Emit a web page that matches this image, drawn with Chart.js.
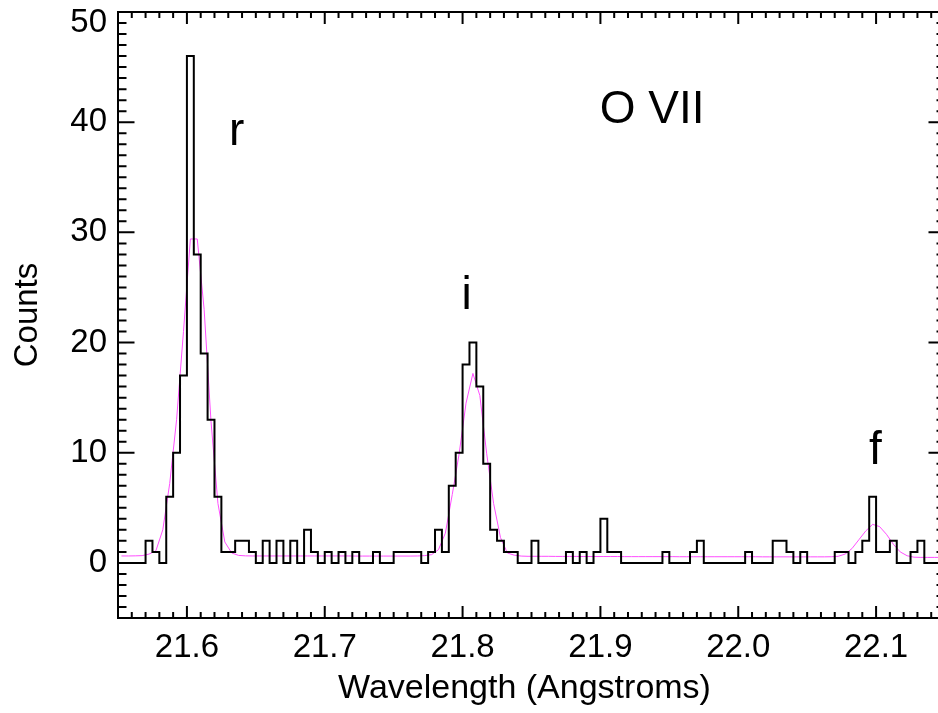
<!DOCTYPE html>
<html>
<head>
<meta charset="utf-8">
<title>O VII</title>
<script src="https://cdn.jsdelivr.net/npm/chart.js@4.4.1/dist/chart.umd.min.js"></script>
<style>
  html, body { margin: 0; padding: 0; background: #fff; overflow: hidden; }
  canvas { display: block; }
</style>
</head>
<body>
<canvas id="spectrum" width="948" height="713"></canvas>
<script>
// ===================================
// DATA
// ===================================

// bins: first center and width, in Angstroms
const binStart = 21.5525;
const binWidth = 0.005;

// observed counts per bin
const counts = [
  0, 0, 0, 0, 2, 1, 0, 6, 10, 17,
  46, 28, 19, 13, 6, 1, 1, 2, 2, 1,
  0, 2, 0, 2, 0, 2, 0, 3, 1, 0,
  1, 0, 1, 0, 1, 0, 0, 1, 0, 0,
  1, 1, 1, 1, 0, 1, 3, 1, 7, 10,
  18, 20, 16, 9, 3, 2, 1, 1, 0, 0,
  2, 0, 0, 0, 0, 1, 0, 1, 0, 1,
  4, 1, 1, 0, 0, 0, 0, 0, 0, 1,
  0, 0, 0, 1, 2, 0, 0, 0, 0, 0,
  0, 1, 0, 0, 0, 2, 2, 1, 0, 1,
  0, 0, 0, 0, 1, 1, 0, 1, 2, 6,
  1, 1, 2, 0, 0, 1, 2, 0, 0, 0
];

// fitted model at the same bin centers
const model = [
  0.63, 0.63, 0.64, 0.66, 0.80, 1.10, 3.00, 7.20, 13.0, 21.0,
  29.4, 29.4, 23.0, 12.8, 5.40, 1.90, 0.90, 0.68, 0.64, 0.63,
  0.63, 0.63, 0.63, 0.63, 0.63, 0.63, 0.63, 0.63, 0.63, 0.63,
  0.63, 0.63, 0.63, 0.63, 0.62, 0.62, 0.62, 0.62, 0.62, 0.62,
  0.62, 0.62, 0.62, 0.63, 0.66, 0.75, 1.20, 2.70, 6.20, 9.90,
  14.5, 17.2, 15.2, 9.90, 5.40, 2.30, 0.90, 0.70, 0.62, 0.60,
  0.60, 0.60, 0.60, 0.59, 0.59, 0.59, 0.59, 0.58, 0.58, 0.58,
  0.58, 0.58, 0.58, 0.57, 0.57, 0.57, 0.57, 0.57, 0.57, 0.57,
  0.57, 0.56, 0.56, 0.56, 0.56, 0.56, 0.56, 0.56, 0.56, 0.56,
  0.56, 0.56, 0.56, 0.55, 0.55, 0.55, 0.55, 0.55, 0.55, 0.55,
  0.55, 0.55, 0.55, 0.56, 0.60, 0.80, 1.30, 2.10, 2.90, 3.50,
  3.30, 2.60, 1.70, 1.00, 0.65, 0.52, 0.50, 0.50, 0.50, 0.50
];

const xTicks = [21.6, 21.7, 21.8, 21.9, 22.0, 22.1];
const yTicks = [0, 10, 20, 30, 40, 50];

const xRange = [21.55, 22.15];
const yRange = [-5, 50];

// line identifications (wavelength, counts at text baseline)
const lineNames = ["r", "i", "f"];
const lineNamePos = [[21.636, 37.9], [21.803, 23.0], [22.0995, 9.0]];
const ionName = "O VII";
const ionPos = [21.9375, 39.9];

const wavelengths = counts.map((_, k) => +(binStart + k * binWidth).toFixed(4));

// ===================================
// HELPERS
// ===================================
const FONT = '"Liberation Sans", Arial, Helvetica, sans-serif';

function toPoints(values) {
  return values.map((v, k) => ({ x: wavelengths[k], y: v }));
}

// fixed axis box, no extra room for overhanging labels
function fixSize(prop, size) {
  return scale => {
    scale[prop] = size;
    scale.paddingTop = 0;
    scale.paddingBottom = 0;
    scale.paddingLeft = 0;
    scale.paddingRight = 0;
  };
}

// IDL style frame: ticks pointing inwards on all four sides
const framePlugin = {
  id: "frame",
  afterDatasetsDraw(chart) {
    const { ctx, chartArea: a } = chart;
    const xs = chart.scales.x;
    const ys = chart.scales.y;

    ctx.save();
    ctx.strokeStyle = "#000";
    ctx.lineWidth = 2;
    ctx.lineCap = "butt";
    ctx.beginPath();

    for (let i = 0; i <= 60; i++) {
      const px = xs.getPixelForValue(xRange[0] + i * 0.01);
      const len = (i - 5) % 10 === 0 ? 12 : 6;
      ctx.moveTo(px, a.bottom);
      ctx.lineTo(px, a.bottom - len);
      ctx.moveTo(px, a.top);
      ctx.lineTo(px, a.top + len);
    }

    for (let v = yRange[0]; v <= yRange[1]; v++) {
      const py = ys.getPixelForValue(v);
      const len = v % 10 === 0 ? 16.5 : 8.5;
      ctx.moveTo(a.left, py);
      ctx.lineTo(a.left + len, py);
      ctx.moveTo(a.right, py);
      ctx.lineTo(a.right - len, py);
    }
    ctx.stroke();

    ctx.strokeRect(a.left, a.top, a.right - a.left, a.bottom - a.top);
    ctx.restore();
  },

  afterDraw(chart) {
    const { ctx, chartArea: a } = chart;
    const xs = chart.scales.x;
    const ys = chart.scales.y;

    ctx.save();
    ctx.fillStyle = "#000";

    // top tick label sits a little below the axis
    ctx.font = "33px " + FONT;
    ctx.textAlign = "right";
    ctx.textBaseline = "middle";
    ctx.fillText("50", a.left - 11, ys.getPixelForValue(50) + 11);

    // line labels
    ctx.font = "46px " + FONT;
    ctx.textAlign = "center";
    ctx.textBaseline = "alphabetic";
    lineNames.forEach((name, i) => {
      const [wl, c] = lineNamePos[i];
      ctx.fillText(name, xs.getPixelForValue(wl), ys.getPixelForValue(c));
    });
    ctx.fillText(ionName, xs.getPixelForValue(ionPos[0]), ys.getPixelForValue(ionPos[1]));

    // axis titles
    ctx.font = "34px " + FONT;
    ctx.fillText("Wavelength (Angstroms)", 524.5, 698);

    ctx.font = "33px " + FONT;
    ctx.translate(36.5, (a.top + a.bottom) / 2);
    ctx.rotate(-Math.PI / 2);
    ctx.fillText("Counts", 0, 0);
    ctx.restore();
  }
};

// ===================================
// CHART
// ===================================
const ctx = document.getElementById("spectrum").getContext("2d");

new Chart(ctx, {
  type: "line",
  data: {
    datasets: [
      {
        label: "Counts",
        data: toPoints(counts),
        stepped: "middle",
        borderColor: "#000",
        borderWidth: 2,
        pointRadius: 0,
        fill: false
      },
      {
        label: "Model",
        data: toPoints(model),
        borderColor: "#ff4dff",
        borderWidth: 1,
        pointRadius: 0,
        tension: 0,
        fill: false
      }
    ]
  },
  options: {
    responsive: false,
    animation: false,
    devicePixelRatio: 1,
    layout: {
      autoPadding: false,
      padding: { top: 12, right: 3, left: 0, bottom: 0 }
    },
    plugins: {
      legend: { display: false },
      tooltip: { enabled: false }
    },
    scales: {
      x: {
        type: "linear",
        min: xRange[0],
        max: xRange[1],
        afterBuildTicks: scale => { scale.ticks = xTicks.map(v => ({ value: v })); },
        afterFit: fixSize("height", 95),
        grid: { display: false, drawTicks: false },
        border: { display: false },
        ticks: {
          padding: 10,
          maxRotation: 0,
          color: "#000",
          font: { family: FONT, size: 33 },
          callback: v => v.toFixed(1)
        }
      },
      y: {
        type: "linear",
        min: yRange[0],
        max: yRange[1],
        afterBuildTicks: scale => { scale.ticks = yTicks.map(v => ({ value: v })); },
        afterFit: fixSize("width", 118),
        grid: { display: false, drawTicks: false },
        border: { display: false },
        ticks: {
          padding: 11,
          color: "#000",
          font: { family: FONT, size: 33 },
          callback: v => (v === 50 ? "" : String(v))
        }
      }
    }
  },
  plugins: [framePlugin]
});
</script>
</body>
</html>
